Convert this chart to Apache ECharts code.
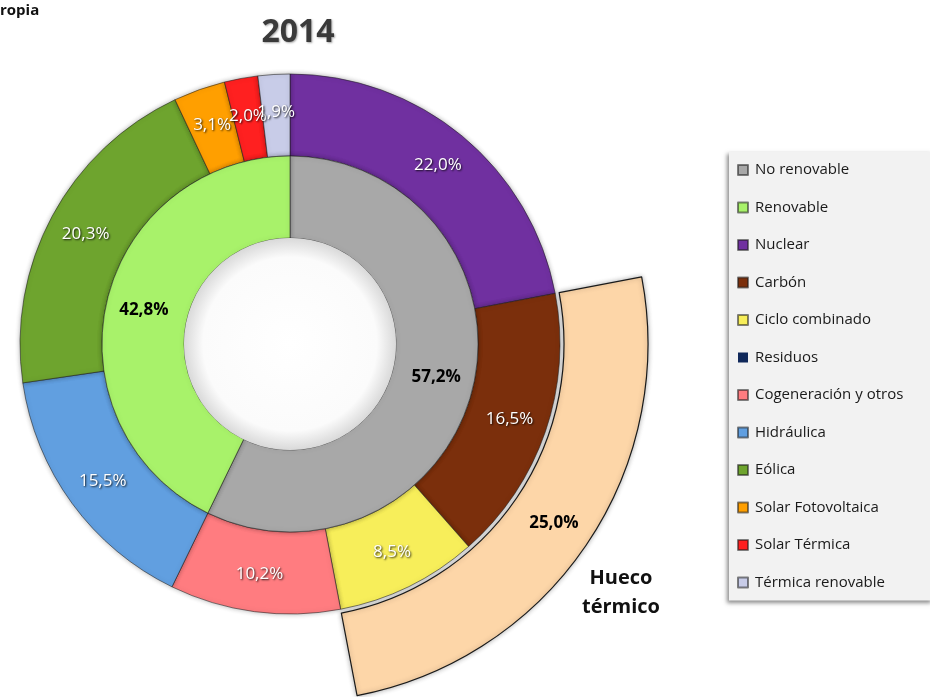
<!DOCTYPE html>
<html>
<head>
	<meta http-equiv="Content-Type" content="text/html;charset=utf-8">
	<title>2014</title>
	<style>
	  html, body{
		margin: 0;
		padding: 0;
		background: #fff;
	  }
	  #chart{
		width: 930px;
		height: 697px;
	  }
	</style>
</head>
<body>
<div id="chart"></div>

<script src="https://cdn.jsdelivr.net/npm/echarts@6/dist/echarts.min.js"></script>
<script>
	// anillo interior
	var innerNames = ['No renovable', 'Renovable'];
	var innerValues = [57.2, 42.8];
	var innerColors = ['#a8a8a8', '#a8f26a'];

	// anillo exterior
	var outerNames = ['Nuclear', 'Carbón', 'Ciclo combinado', 'Residuos', 'Cogeneración y otros',
		'Hidráulica', 'Eólica', 'Solar Fotovoltaica', 'Solar Térmica', 'Térmica renovable'];
	var outerValues = [22.0, 16.5, 8.5, 0.0, 10.2, 15.5, 20.3, 3.1, 2.0, 1.9];
	var outerColors = ['#7030a0', '#7b2f0c', '#f7ee5a', '#10285a', '#ff7c80',
		'#619fe0', '#6ea42e', '#ff9f00', '#ff2020', '#c8cce8'];

	// hueco térmico (tramo visible entre dos huecos vacíos)
	var huecoNames = ['', 'Hueco térmico', ''];
	var huecoValues = [22.0, 25.0, 53.0];
	var huecoColor = '#fdd6a8';

	var legendNames = innerNames.concat(outerNames);
	var center = [290, 344];
	var font = '"Open Sans", "DejaVu Sans", sans-serif';

	function pct(p){
		if(!p.value){
			return '';
		}
		return p.value.toFixed(1).replace('.', ',') + '%';
	}

	function buildData(names, values, colors){
		var out = [];
		for(var i = 0; i < names.length; i++){
			out.push({
				name : names[i],
				value : values[i],
				itemStyle : {color : colors[i], borderWidth : values[i] ? 1 : 0}
			});
		}
		return out;
	}

	var huecoData = [];
	for(var i = 0; i < huecoNames.length; i++){
		if(i == 1){
			huecoData.push({name : huecoNames[i], value : huecoValues[i], itemStyle : {color : huecoColor}});
		}else{
			huecoData.push({
				name : huecoNames[i],
				value : huecoValues[i],
				itemStyle : {color : 'transparent', borderWidth : 0, shadowBlur : 0},
				label : {show : false}
			});
		}
	}

	var option = {
		backgroundColor : '#ffffff',
		animation : false,
		title : {
			text : '2014',
			left : 293,
			top : 12,
			textAlign : 'center',
			textStyle : {
				fontFamily : font,
				fontSize : 32,
				fontWeight : 'bold',
				color : '#3a3a3a',
				textShadowColor : 'rgba(0,0,0,0.35)',
				textShadowBlur : 2,
				textShadowOffsetX : 1,
				textShadowOffsetY : 1
			}
		},
		legend : {
			data : legendNames,
			orient : 'vertical',
			left : 729,
			top : 152,
			padding : [9, 30, 9, 8],
			itemWidth : 10,
			itemHeight : 10,
			itemGap : 19.5,
			icon : 'rect',
			backgroundColor : '#f2f2f2',
			shadowColor : 'rgba(0,0,0,0.45)',
			shadowBlur : 4,
			shadowOffsetX : -2,
			shadowOffsetY : 2,
			selectedMode : false,
			textStyle : {
				fontFamily : font,
				fontSize : 15,
				lineHeight : 18,
				color : '#1a1a1a',
				padding : [0, 0, 0, 2]
			}
		},
		graphic : [
			{
				type : 'text',
				left : 0,
				top : 3,
				style : {
					text : 'ropia',
					fontFamily : font,
					fontSize : 15,
					fontWeight : 'bold',
					fill : '#111'
				}
			},
			{
				type : 'text',
				x : 621,
				y : 564,
				style : {
					text : 'Hueco\ntérmico',
					align : 'center',
					verticalAlign : 'top',
					fontFamily : font,
					fontSize : 20,
					fontWeight : 'bold',
					lineHeight : 29,
					fill : '#111'
				}
			}
		],
		series : [
			{
				name : 'hueco',
				type : 'pie',
				center : center,
				radius : [274, 358],
				startAngle : 90,
				silent : true,
				avoidLabelOverlap : false,
				emphasis : {disabled : true},
				itemStyle : {
					borderColor : '#1a1a1a',
					borderWidth : 1.2,
					shadowColor : 'rgba(0,0,0,0.3)',
					shadowBlur : 5
				},
				label : {
					show : true,
					position : 'inside',
					formatter : pct,
					fontFamily : font,
					fontSize : 17,
					fontWeight : 'bold',
					color : '#000'
				},
				labelLine : {show : false},
				data : huecoData
			},
			{
				name : 'exterior',
				type : 'pie',
				center : center,
				radius : [188, 270],
				startAngle : 90,
				avoidLabelOverlap : false,
				emphasis : {disabled : true},
				itemStyle : {
					borderColor : 'rgba(30,30,30,0.55)',
					shadowColor : 'rgba(0,0,0,0.3)',
					shadowBlur : 5
				},
				label : {
					show : true,
					position : 'inside',
					formatter : pct,
					fontFamily : font,
					fontSize : 17,
					color : '#ffffff',
					textShadowColor : 'rgba(0,0,0,0.85)',
					textShadowBlur : 2,
					textShadowOffsetX : 1,
					textShadowOffsetY : 1
				},
				labelLine : {show : false},
				labelLayout : {hideOverlap : false},
				data : buildData(outerNames, outerValues, outerColors)
			},
			{
				name : 'interior',
				type : 'pie',
				center : center,
				radius : [106, 188],
				startAngle : 90,
				avoidLabelOverlap : false,
				emphasis : {disabled : true},
				itemStyle : {
					borderColor : 'rgba(30,30,30,0.55)',
					shadowColor : 'rgba(0,0,0,0.3)',
					shadowBlur : 5
				},
				label : {
					show : true,
					position : 'inside',
					formatter : pct,
					fontFamily : font,
					fontSize : 17,
					fontWeight : 'bold',
					color : '#000'
				},
				labelLine : {show : false},
				data : buildData(innerNames, innerValues, innerColors)
			},
			{
				// sombreado del hueco central
				name : 'centro',
				type : 'pie',
				center : center,
				radius : [0, 106],
				silent : true,
				emphasis : {disabled : true},
				label : {show : false},
				labelLine : {show : false},
				data : [{
					name : 'centro',
					value : 1,
					itemStyle : {
						color : {
							type : 'radial', x : 0.5, y : 0.5, r : 0.5,
							colorStops : [
								{offset : 0, color : '#ffffff'},
								{offset : 0.82, color : '#fbfbfb'},
								{offset : 1, color : '#d9d9d9'}
							]
						}
					}
				}]
			}
		]
	};

	var myChart = echarts.init(document.getElementById('chart'));
	myChart.setOption(option);
</script>
</body>
</html>
